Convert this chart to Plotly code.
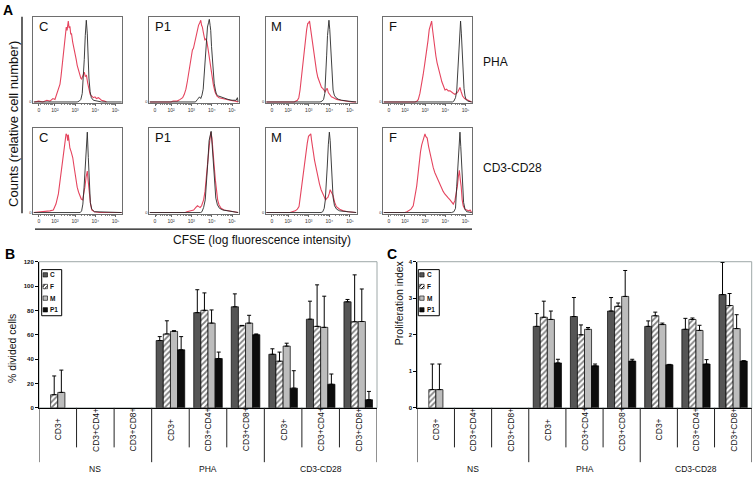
import numpy as np
import plotly.graph_objects as go

W, H = 756, 479
FONT = "Liberation Sans, Arial, sans-serif"
RED = "#e5455f"
BLK = "#2a2a2a"


def px(x):
    return x / W


def py(y):
    return 1 - y / H


# ---------------- Panel A : CFSE histograms ----------------
# x: position on the biexponential CFSE axis (decades), y: relative cell number
hist_labels = ["C", "P1", "M", "F", "C", "P1", "M", "F"]
stim_labels = ["PHA", "CD3-CD28"]
decade_ticks = [1.21, 2, 3, 4, 5]
decade_text = ["0", "10²", "10³", "10⁴", "10⁵"]

# C / PHA
c_pha_red_x = [0.98, 1.2, 1.4, 1.6, 1.75, 1.9, 2.0, 2.08, 2.15, 2.25, 2.3, 2.36, 2.41, 2.46, 2.52, 2.56, 2.6, 2.63, 2.66, 2.7, 2.74, 2.78, 2.82, 2.88, 2.94, 2.99, 3.05, 3.1, 3.15, 3.22, 3.28, 3.32, 3.38, 3.45, 3.5, 3.56, 3.62, 3.67, 3.74, 3.81, 3.9, 3.98, 4.05, 4.15, 4.22, 4.3, 4.45, 4.55]
c_pha_red_y = [0.0, 0.01, 0.0, 0.02, 0.01, 0.04, 0.03, 0.09, 0.13, 0.21, 0.30, 0.42, 0.55, 0.69, 0.78, 0.88, 0.84, 0.93, 0.95, 0.87, 0.89, 0.80, 0.80, 0.70, 0.64, 0.57, 0.50, 0.43, 0.38, 0.31, 0.28, 0.27, 0.32, 0.35, 0.30, 0.31, 0.22, 0.15, 0.09, 0.07, 0.05, 0.06, 0.04, 0.05, 0.03, 0.02, 0.01, 0.0]
c_pha_blk_x = [0.95, 3.1, 3.2, 3.28, 3.35, 3.4, 3.45, 3.5, 3.55, 3.6, 3.64, 3.68, 3.74, 3.8, 3.9, 4.05, 4.3, 5.3]
c_pha_blk_y = [0.0, 0.0, 0.01, 0.03, 0.10, 0.25, 0.50, 0.78, 0.96, 0.80, 0.50, 0.28, 0.12, 0.05, 0.02, 0.01, 0.0, 0.0]

# P1 / PHA
p1_pha_red_x = [0.95, 2.0, 2.1, 2.3, 2.45, 2.57, 2.65, 2.73, 2.8, 2.89, 2.95, 3.0, 3.05, 3.1, 3.16, 3.22, 3.28, 3.35, 3.41, 3.46, 3.5, 3.54, 3.6, 3.66, 3.71, 3.76, 3.82, 3.87, 3.93, 4.0, 4.08, 4.16, 4.25, 4.36, 4.5, 4.68, 4.9, 5.17, 5.3]
p1_pha_red_y = [0.0, 0.0, 0.01, 0.01, 0.03, 0.05, 0.09, 0.15, 0.24, 0.38, 0.47, 0.55, 0.61, 0.63, 0.70, 0.76, 0.83, 0.90, 0.93, 0.96, 0.90, 0.88, 0.80, 0.73, 0.74, 0.71, 0.62, 0.53, 0.42, 0.31, 0.20, 0.12, 0.07, 0.05, 0.04, 0.03, 0.02, 0.01, 0.0]
p1_pha_blk_x = [0.95, 3.2, 3.3, 3.4, 3.46, 3.52, 3.58, 3.62, 3.67, 3.71, 3.75, 3.79, 3.84, 3.88, 3.92, 3.95, 3.99, 4.03, 4.08, 4.12, 4.18, 4.23, 4.33, 4.44, 4.6, 4.8, 5.0, 5.2, 5.26, 5.3]
p1_pha_blk_y = [0.0, 0.0, 0.03, 0.06, 0.04, 0.08, 0.15, 0.30, 0.45, 0.60, 0.76, 0.88, 0.93, 0.97, 0.90, 0.84, 0.65, 0.49, 0.33, 0.22, 0.14, 0.09, 0.07, 0.06, 0.04, 0.03, 0.02, 0.02, 0.05, 0.0]

# M / PHA
m_pha_red_x = [0.95, 2.3, 2.45, 2.52, 2.58, 2.63, 2.68, 2.74, 2.8, 2.84, 2.9, 2.95, 3.0, 3.04, 3.08, 3.12, 3.16, 3.2, 3.26, 3.32, 3.38, 3.44, 3.5, 3.56, 3.62, 3.68, 3.74, 3.8, 3.86, 3.9, 3.95, 4.02, 4.1, 4.2, 4.35, 4.55, 4.8, 5.1, 5.3]
m_pha_red_y = [0.0, 0.0, 0.02, 0.05, 0.14, 0.25, 0.39, 0.55, 0.68, 0.78, 0.85, 0.92, 0.93, 0.95, 0.88, 0.82, 0.72, 0.64, 0.52, 0.43, 0.36, 0.29, 0.24, 0.22, 0.17, 0.16, 0.13, 0.12, 0.15, 0.16, 0.11, 0.09, 0.06, 0.05, 0.03, 0.02, 0.01, 0.0, 0.0]
m_pha_blk_x = [0.95, 3.55, 3.65, 3.72, 3.78, 3.83, 3.87, 3.91, 3.95, 3.98, 4.02, 4.05, 4.09, 4.13, 4.18, 4.24, 4.32, 4.45, 4.6, 4.9, 5.3]
m_pha_blk_y = [0.0, 0.0, 0.01, 0.03, 0.10, 0.30, 0.55, 0.78, 0.92, 0.96, 0.85, 0.70, 0.45, 0.28, 0.14, 0.08, 0.05, 0.03, 0.02, 0.01, 0.0]

# F / PHA
f_pha_red_x = [0.95, 2.5, 2.6, 2.66, 2.74, 2.83, 2.9, 2.98, 3.07, 3.14, 3.2, 3.26, 3.32, 3.36, 3.4, 3.46, 3.53, 3.59, 3.65, 3.72, 3.78, 3.82, 3.9, 3.98, 4.06, 4.14, 4.23, 4.32, 4.4, 4.47, 4.55, 4.62, 4.68, 4.72, 4.78, 4.85, 4.95, 5.05, 5.13, 5.2, 5.3]
f_pha_red_y = [0.0, 0.0, 0.01, 0.03, 0.10, 0.20, 0.32, 0.45, 0.58, 0.72, 0.85, 0.90, 0.95, 0.86, 0.77, 0.68, 0.54, 0.46, 0.39, 0.33, 0.28, 0.24, 0.18, 0.14, 0.15, 0.13, 0.13, 0.11, 0.10, 0.09, 0.10, 0.12, 0.16, 0.17, 0.12, 0.07, 0.04, 0.03, 0.02, 0.01, 0.0]
f_pha_blk_x = [0.95, 4.35, 4.42, 4.5, 4.56, 4.61, 4.66, 4.71, 4.75, 4.79, 4.83, 4.88, 4.92, 4.97, 5.02, 5.1, 5.3]
f_pha_blk_y = [0.0, 0.0, 0.01, 0.05, 0.13, 0.35, 0.58, 0.85, 0.95, 0.80, 0.58, 0.35, 0.16, 0.07, 0.03, 0.01, 0.0]

# C / CD3-CD28
c_cd_red_x = [0.95, 1.4, 1.6, 1.75, 1.92, 2.05, 2.17, 2.25, 2.33, 2.4, 2.45, 2.5, 2.55, 2.6, 2.63, 2.66, 2.7, 2.74, 2.8, 2.88, 2.94, 2.99, 3.05, 3.1, 3.17, 3.24, 3.3, 3.37, 3.43, 3.48, 3.54, 3.6, 3.64, 3.7, 3.76, 3.82, 3.95, 4.2, 5.3]
c_cd_red_y = [0.0, 0.01, 0.01, 0.02, 0.03, 0.10, 0.22, 0.36, 0.53, 0.68, 0.76, 0.86, 0.93, 0.91, 0.85, 0.92, 0.84, 0.76, 0.72, 0.65, 0.55, 0.45, 0.37, 0.30, 0.24, 0.18, 0.16, 0.15, 0.22, 0.30, 0.42, 0.49, 0.38, 0.22, 0.10, 0.03, 0.01, 0.0, 0.0]
c_cd_blk_x = [0.95, 3.25, 3.32, 3.38, 3.44, 3.5, 3.55, 3.6, 3.65, 3.7, 3.75, 3.82, 3.95, 5.3]
c_cd_blk_y = [0.0, 0.0, 0.02, 0.10, 0.30, 0.60, 0.85, 0.95, 0.65, 0.30, 0.12, 0.04, 0.01, 0.0]

# P1 / CD3-CD28
p1_cd_red_x = [0.95, 2.7, 2.78, 2.95, 3.11, 3.22, 3.3, 3.36, 3.43, 3.5, 3.55, 3.6, 3.67, 3.73, 3.8, 3.85, 3.9, 3.96, 4.01, 4.06, 4.12, 4.18, 4.24, 4.29, 4.36, 4.46, 4.6, 4.8, 5.0, 5.3]
p1_cd_red_y = [0.0, 0.0, 0.01, 0.02, 0.03, 0.06, 0.08, 0.07, 0.06, 0.08, 0.11, 0.15, 0.25, 0.38, 0.56, 0.72, 0.84, 0.95, 0.88, 0.76, 0.55, 0.38, 0.24, 0.15, 0.09, 0.05, 0.03, 0.02, 0.01, 0.0]
p1_cd_blk_x = [0.95, 3.45, 3.52, 3.6, 3.68, 3.74, 3.8, 3.87, 3.93, 3.97, 4.02, 4.08, 4.14, 4.2, 4.28, 4.38, 4.55, 4.8, 5.1, 5.3]
p1_cd_blk_y = [0.0, 0.0, 0.01, 0.06, 0.15, 0.33, 0.57, 0.85, 0.95, 0.96, 0.80, 0.55, 0.32, 0.17, 0.09, 0.05, 0.03, 0.02, 0.01, 0.0]

# M / CD3-CD28
m_cd_red_x = [0.95, 2.1, 2.2, 2.35, 2.45, 2.53, 2.6, 2.69, 2.78, 2.86, 2.93, 2.99, 3.05, 3.1, 3.14, 3.18, 3.22, 3.28, 3.35, 3.42, 3.52, 3.6, 3.68, 3.75, 3.82, 3.88, 3.93, 3.99, 4.04, 4.08, 4.13, 4.18, 4.26, 4.34, 4.5, 4.67, 4.9, 5.3]
m_cd_red_y = [0.0, 0.0, 0.01, 0.02, 0.04, 0.07, 0.20, 0.38, 0.56, 0.72, 0.82, 0.90, 0.92, 0.93, 0.85, 0.80, 0.72, 0.62, 0.53, 0.45, 0.34, 0.27, 0.22, 0.18, 0.15, 0.17, 0.18, 0.22, 0.27, 0.25, 0.22, 0.20, 0.12, 0.07, 0.04, 0.02, 0.01, 0.0]
m_cd_blk_x = [0.95, 3.6, 3.68, 3.75, 3.8, 3.85, 3.9, 3.95, 4.0, 4.04, 4.08, 4.13, 4.18, 4.25, 4.35, 4.5, 4.8, 5.3]
m_cd_blk_y = [0.0, 0.0, 0.01, 0.05, 0.14, 0.30, 0.55, 0.80, 0.95, 0.85, 0.62, 0.38, 0.18, 0.08, 0.04, 0.02, 0.01, 0.0]

# F / CD3-CD28
f_cd_red_x = [0.95, 2.0, 2.1, 2.17, 2.3, 2.41, 2.5, 2.58, 2.65, 2.71, 2.77, 2.83, 2.9, 2.95, 2.99, 3.03, 3.1, 3.17, 3.24, 3.3, 3.35, 3.4, 3.48, 3.57, 3.65, 3.73, 3.8, 3.89, 3.97, 4.06, 4.15, 4.23, 4.3, 4.39, 4.47, 4.53, 4.59, 4.64, 4.69, 4.74, 4.78, 4.83, 4.88, 4.96, 5.05, 5.15, 5.22, 5.3]
f_cd_red_y = [0.0, 0.0, 0.01, 0.02, 0.04, 0.08, 0.18, 0.31, 0.46, 0.61, 0.72, 0.80, 0.86, 0.90, 0.93, 0.90, 0.88, 0.78, 0.69, 0.62, 0.57, 0.53, 0.47, 0.42, 0.37, 0.32, 0.28, 0.25, 0.22, 0.19, 0.17, 0.15, 0.13, 0.10, 0.14, 0.22, 0.31, 0.42, 0.50, 0.38, 0.31, 0.15, 0.08, 0.04, 0.03, 0.02, 0.03, 0.0]
f_cd_blk_x = [0.95, 4.3, 4.42, 4.5, 4.56, 4.62, 4.68, 4.72, 4.76, 4.8, 4.85, 4.9, 4.97, 5.05, 5.3]
f_cd_blk_y = [0.0, 0.0, 0.01, 0.05, 0.31, 0.62, 0.88, 0.95, 0.78, 0.55, 0.30, 0.12, 0.04, 0.01, 0.0]

red_curves = [(c_pha_red_x, c_pha_red_y), (p1_pha_red_x, p1_pha_red_y), (m_pha_red_x, m_pha_red_y), (f_pha_red_x, f_pha_red_y),
              (c_cd_red_x, c_cd_red_y), (p1_cd_red_x, p1_cd_red_y), (m_cd_red_x, m_cd_red_y), (f_cd_red_x, f_cd_red_y)]
blk_curves = [(c_pha_blk_x, c_pha_blk_y), (p1_pha_blk_x, p1_pha_blk_y), (m_pha_blk_x, m_pha_blk_y), (f_pha_blk_x, f_pha_blk_y),
              (c_cd_blk_x, c_cd_blk_y), (p1_cd_blk_x, p1_cd_blk_y), (m_cd_blk_x, m_cd_blk_y), (f_cd_blk_x, f_cd_blk_y)]

# ---------------- Panels B and C : bar charts ----------------
categories = ["CD3+", "CD3+CD4+", "CD3+CD8+"] * 3
groups = ["NS", "PHA", "CD3-CD28"]
series = ["C", "F", "M", "P1"]

div_C = [0, 0, 0, 55.3, 78.2, 83.0, 44.0, 72.8, 87.1]
div_F = [10.8, 0, 0, 60.7, 80.1, 67.4, 38.3, 66.9, 70.7]
div_M = [12.7, 0, 0, 62.8, 69.6, 69.6, 50.7, 66.1, 70.9]
div_P1 = [0, 0, 0, 47.7, 40.5, 60.1, 16.2, 19.4, 6.7]
div_C_err = [None, None, None, 3.2, 18.8, 10.6, 4.5, 14.8, 1.9]
div_F_err = [15.4, None, None, 10.8, 14.3, 0.3, 7.5, 34.1, 38.5]
div_M_err = [18.3, None, None, 0.6, 10.8, 6.4, 2.4, 25.6, 26.7]
div_P1_err = [None, None, None, 10.8, 5.3, 0.6, 14.3, 8.4, 6.8]

pi_C = [0, 0, 0, 2.23, 2.50, 2.65, 2.23, 2.15, 3.10]
pi_F = [0.5, 0, 0, 2.48, 2.00, 2.78, 2.52, 2.42, 2.80]
pi_M = [0.5, 0, 0, 2.42, 2.15, 3.05, 2.28, 2.12, 2.17]
pi_P1 = [0, 0, 0, 1.23, 1.15, 1.28, 1.18, 1.20, 1.28]
pi_C_err = [None, None, None, 0.35, 0.52, 0.37, 0.15, 0.30, 0.88]
pi_F_err = [0.7, None, None, 0.44, 0.27, 0.09, 0.10, 0.04, 0.33]
pi_M_err = [0.7, None, None, 0.23, 0.05, 0.71, 0.04, 0.14, 0.38]
pi_P1_err = [None, None, None, 0.10, 0.05, 0.05, 0.01, 0.12, 0.01]

div_vals = [div_C, div_F, div_M, div_P1]
div_errs = [div_C_err, div_F_err, div_M_err, div_P1_err]
pi_vals = [pi_C, pi_F, pi_M, pi_P1]
pi_errs = [pi_C_err, pi_F_err, pi_M_err, pi_P1_err]

series_fill = ["#555555", "white", "#bdbdbd", "#0d0d0d"]

fig = go.Figure()
layout = {}
shapes = []
annotations = []

# ---- histograms
col_l = [33.3, 149.3, 266.0, 383.3]
col_r = [122.3, 238.8, 356.8, 472.3]
row_t = [14.0, 126.5]
row_b = [101.5, 213.5]
minor_vals = [float(d + np.log10(k)) for d in (1, 2, 3, 4) for k in range(2, 10) if 0.93 < d + np.log10(k) < 5.33]

for i in range(8):
    r, c = divmod(i, 4)
    n = i + 1
    sx = "" if n == 1 else str(n)
    xa, ya = "x" + sx, "y" + sx
    rx, ry = red_curves[i]
    bx, by = blk_curves[i]
    fig.add_trace(go.Scatter(x=rx, y=ry, mode="lines", line=dict(color=RED, width=1.1),
                             xaxis=xa, yaxis=ya, showlegend=False, hoverinfo="skip"))
    fig.add_trace(go.Scatter(x=bx, y=by, mode="lines", line=dict(color=BLK, width=0.9),
                             xaxis=xa, yaxis=ya, showlegend=False, hoverinfo="skip"))
    layout["xaxis" + sx] = dict(domain=[px(col_l[c]), px(col_r[c])], range=[0.93, 5.33], anchor=ya,
                                showline=True, mirror=True, linecolor="#6e6e6e", linewidth=1,
                                ticks="outside", ticklen=2, tickcolor="#444", tickwidth=0.8,
                                tickvals=decade_ticks, ticktext=decade_text,
                                tickfont=dict(size=5, color="#333", family=FONT),
                                minor=dict(tickvals=minor_vals, ticks="outside", ticklen=1, tickcolor="#666"),
                                showgrid=False, zeroline=False, fixedrange=True)
    layout["yaxis" + sx] = dict(domain=[py(row_b[r]), py(row_t[r])], range=[-0.015, 1.0], anchor=xa,
                                showline=True, mirror=True, linecolor="#6e6e6e", linewidth=1,
                                tickvals=[0], ticktext=["0"], ticks="",
                                tickfont=dict(size=4, color="#333", family=FONT),
                                showgrid=False, zeroline=False, fixedrange=True)
    annotations.append(dict(text=hist_labels[i], x=px(col_l[c] + 3.2), y=py(row_t[r] + 10.2),
                            xref="paper", yref="paper", xanchor="left", yanchor="middle",
                            showarrow=False, font=dict(size=13, color="#111", family=FONT)))

for r in range(2):
    annotations.append(dict(text=stim_labels[r], x=px(480.5), y=py([60, 167][r]), xref="paper", yref="paper",
                            xanchor="left", yanchor="middle", showarrow=False,
                            font=dict(size=12, color="#111", family=FONT)))

annotations.append(dict(text="Counts (relative cell number)", x=px(13.5), y=py(123), xref="paper", yref="paper",
                        textangle=-90, xanchor="center", yanchor="middle", showarrow=False,
                        font=dict(size=13, color="#111", family=FONT)))
annotations.append(dict(text="CFSE (log fluorescence intensity)", x=px(261.5), y=py(239.5), xref="paper", yref="paper",
                        xanchor="center", yanchor="middle", showarrow=False,
                        font=dict(size=12, color="#111", family=FONT)))
shapes.append(dict(type="line", xref="paper", yref="paper", x0=px(22), x1=px(22), y0=py(14), y1=py(213),
                   line=dict(color="#111", width=1.3)))
shapes.append(dict(type="line", xref="paper", yref="paper", x0=px(35), x1=px(472), y0=py(229), y1=py(229),
                   line=dict(color="#111", width=1.3)))

# ---- bar panels
cat_pos = list(range(len(categories)))
panels = [
    dict(n=9, vals=div_vals, errs=div_errs, x0=39.0, x1=377.0, ymax=120, dtick=20,
         title="% divided cells", tsize=10.5, tx=11.5, ty=350, leg_l=41.7, leg_r=61.7),
    dict(n=10, vals=pi_vals, errs=pi_errs, x0=417.3, x1=751.7, ymax=4, dtick=1,
         title="Proliferation index", tsize=10.5, tx=399.0, ty=304, leg_l=418.3, leg_r=439.3),
]
plot_top, plot_bot = 262.0, 410.0
for p in panels:
    n = p["n"]
    xa, ya = "x%d" % n, "y%d" % n
    for s in range(4):
        # zero values draw no visible bar in the original chart
        vals = [v if v > 0 else None for v in p["vals"][s]]
        mk = dict(color=series_fill[s], line=dict(color="black", width=0.7))
        if s == 1:
            mk["pattern"] = dict(shape="/", fgcolor="black", bgcolor="white", size=4, solidity=0.45)
        fig.add_trace(go.Bar(x=cat_pos, y=vals, name=series[s], marker=mk,
                             error_y=dict(type="data", symmetric=False, array=p["errs"][s],
                                          arrayminus=[0] * len(cat_pos), color="black", thickness=1, width=2),
                             xaxis=xa, yaxis=ya, offsetgroup=str(s), showlegend=False, hoverinfo="skip"))
    ticks = list(range(0, p["ymax"] + 1, p["dtick"]))
    layout["xaxis%d" % n] = dict(domain=[px(p["x0"]), px(p["x1"])], range=[-0.5, 8.5], anchor=ya,
                                 showline=True, linecolor="black", linewidth=1, showticklabels=False,
                                 ticks="", showgrid=False, zeroline=False, fixedrange=True)
    layout["yaxis%d" % n] = dict(domain=[py(plot_bot), py(plot_top)], range=[0, p["ymax"]], anchor=xa,
                                 showline=True, linecolor="black", linewidth=1, ticks="outside", ticklen=3,
                                 tickcolor="black", tickvals=ticks, ticktext=[str(t) for t in ticks],
                                 tickfont=dict(size=6, color="#111", family=FONT, weight="bold"),
                                 showgrid=False, zeroline=False, fixedrange=True)
    # grey plot-area frame
    shapes.append(dict(type="rect", xref="%s domain" % xa, yref="%s domain" % ya, x0=0, x1=1, y0=0, y1=1,
                       line=dict(color="#9ea8a8", width=1), layer="below"))
    # category separators (multi-level category axis)
    for k in range(len(categories) + 1):
        y_end = 465 if k % 3 == 0 else 450
        shapes.append(dict(type="line", xref=xa, yref="paper", x0=k - 0.5, x1=k - 0.5,
                           y0=py(plot_bot), y1=py(y_end), line=dict(color="#222", width=1)))
    for k, lab in enumerate(categories):
        annotations.append(dict(text=lab, x=k, y=py(432), xref=xa, yref="paper", textangle=-90,
                                xanchor="center", yanchor="middle", showarrow=False,
                                font=dict(size=8.5, color="#111", family=FONT)))
    for g, lab in enumerate(groups):
        annotations.append(dict(text=lab, x=3 * g + 1, y=py(471.5), xref=xa, yref="paper",
                                xanchor="center", yanchor="middle", showarrow=False,
                                font=dict(size=8.5, color="#111", family=FONT)))
    annotations.append(dict(text=p["title"], x=px(p["tx"]), y=py(p["ty"]), xref="paper", yref="paper",
                            textangle=-90, xanchor="center", yanchor="middle", showarrow=False,
                            font=dict(size=p["tsize"], color="#111", family=FONT)))
    # legend box
    shapes.append(dict(type="rect", xref="paper", yref="paper", x0=px(p["leg_l"]), x1=px(p["leg_r"]),
                       y0=py(316.7), y1=py(270), line=dict(color="black", width=1), fillcolor="white"))
    sw_x = p["leg_l"] + 3.6
    for s in range(4):
        cy = 275.3 + 11.8 * s
        shapes.append(dict(type="rect", xref="paper", yref="paper", x0=px(sw_x - 2.2), x1=px(sw_x + 2.2),
                           y0=py(cy + 2.2), y1=py(cy - 2.2), line=dict(color="black", width=0.6),
                           fillcolor=series_fill[s]))
        if s == 1:
            shapes.append(dict(type="path", xref="paper", yref="paper",
                               path="M %f %f L %f %f M %f %f L %f %f" % (
                                   px(sw_x - 2.2), py(cy + 0.2), px(sw_x - 0.2), py(cy - 2.2),
                                   px(sw_x - 0.6), py(cy + 2.2), px(sw_x + 2.2), py(cy - 0.6)),
                               line=dict(color="black", width=1.0)))
        annotations.append(dict(text=series[s], x=px(sw_x + 2.8), y=py(cy), xref="paper", yref="paper",
                                xanchor="left", yanchor="middle", showarrow=False,
                                font=dict(size=6.5, color="#111", family=FONT, weight="bold")))

# panel letters
for lab, lx, ly in [("A", 0.5, 7.0), ("B", 2.5, 254.5), ("C", 384.5, 254.5)]:
    annotations.append(dict(text="<b>%s</b>" % lab, x=px(lx), y=py(ly), xref="paper", yref="paper",
                            xanchor="left", yanchor="middle", showarrow=False,
                            font=dict(size=14, color="#000", family=FONT)))

fig.update_layout(width=W, height=H, margin=dict(l=0, r=0, t=0, b=0), paper_bgcolor="white",
                  plot_bgcolor="white", barmode="group", bargap=0.24, bargroupgap=0, showlegend=False,
                  font=dict(family=FONT, color="#111"), shapes=shapes, annotations=annotations, **layout)

fig.write_html("out.html", config={"displayModeBar": False, "staticPlot": True},
               post_script="document.body.style.margin='0px';document.body.style.overflow='hidden';")
